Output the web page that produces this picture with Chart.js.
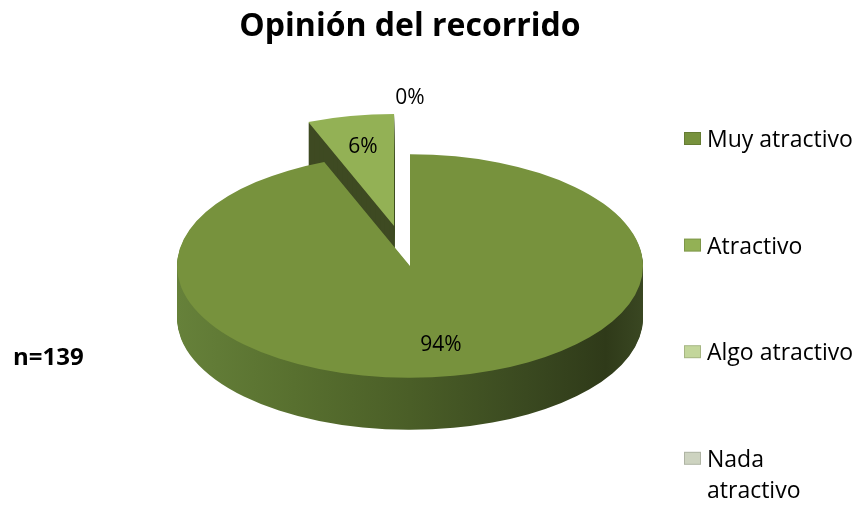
<!DOCTYPE html>
<html>
<head>
<meta charset="utf-8">
<script src="https://cdn.jsdelivr.net/npm/chart.js@4.4.1/dist/chart.umd.min.js"></script>
<style>
  html, body { margin: 0; background: #fff; }
</style>
</head>
<body>
<canvas id="pie" width="858" height="505"></canvas>
<script>
const categories = ['Muy atractivo', 'Atractivo', 'Algo atractivo', ['Nada', 'atractivo']];
const shares = [94, 6, 0, 0];
const sampleSize = 'n=139';
const sliceColors = ['#77923D', '#93B155', '#C3D69B', '#CDD3C0'];

// 3D look: ellipse centre, flattening, rim height, explode distance per slice
const view = { cy: 266, radius: 233, tilt: 0.48, depth: 52, explode: [0, 85, 0, 0] };
const sideDark = [null, '#3E4A22', null, null];
const font = '"Open Sans", "DejaVu Sans", sans-serif';

function midAngle(arc) {
  return (arc.startAngle + arc.endAngle) / 2;
}

function shiftOf(arc, i) {
  const e = view.explode[i] || 0;
  const m = midAngle(arc);
  return { dx: Math.cos(m) * e, dy: Math.sin(m) * e * view.tilt };
}

// draw one arc element squashed into the tilted plane, lowered by k px
function drawFlat(ctx, arc, shift, k, fill) {
  ctx.save();
  ctx.translate(arc.x + shift.dx, view.cy + shift.dy + k);
  ctx.scale(1, view.tilt);
  ctx.translate(-arc.x, -arc.y);
  const el = Object.create(arc);
  el.options = Object.assign({}, arc.options, { backgroundColor: fill, borderWidth: 0 });
  el.draw(ctx);
  ctx.restore();
}

function drawValueLabels(chart) {
  const ctx = chart.ctx;
  const arcs = chart.getDatasetMeta(0).data;
  const r = view.radius;
  const done = new Set();
  ctx.save();
  ctx.font = '21px ' + font;
  ctx.fillStyle = '#000';
  ctx.textAlign = 'center';
  ctx.textBaseline = 'middle';
  arcs.forEach((arc, i) => {
    const shift = shiftOf(arc, i);
    const m = midAngle(arc);
    const f = arc.circumference ? 0.72 : 1.5;
    const x = Math.round(arc.x + shift.dx + Math.cos(m) * r * f);
    const y = Math.round(view.cy + shift.dy + Math.sin(m) * r * f * view.tilt);
    const text = shares[i] + '%';
    const key = text + x + ',' + y;
    if (done.has(key)) return;
    done.add(key);
    ctx.fillText(text, x, y);
  });
  ctx.restore();
}

const pie3d = {
  id: 'pie3d',
  beforeDatasetsDraw(chart) {
    const ctx = chart.ctx;
    const arcs = chart.getDatasetMeta(0).data;
    const r = view.radius;
    const cx = arcs[0].x;
    const side = ctx.createLinearGradient(cx - r, 0, cx + r, 0);
    side.addColorStop(0, '#66813A');
    side.addColorStop(0.25, '#58702F');
    side.addColorStop(0.5, '#4A5E27');
    side.addColorStop(0.75, '#3A4920');
    side.addColorStop(0.92, '#2F3A19');
    side.addColorStop(1, '#3A4722');

    // back slices first
    const order = arcs.map((a, i) => i)
      .sort((a, b) => Math.sin(midAngle(arcs[a])) - Math.sin(midAngle(arcs[b])));
    for (const i of order) {
      const arc = arcs[i];
      if (!arc.circumference) continue;
      const shift = shiftOf(arc, i);
      for (let k = view.depth; k > 0; k--) {
        drawFlat(ctx, arc, shift, k, sideDark[i] || side);
      }
      drawFlat(ctx, arc, shift, 0, arc.options.backgroundColor);
    }
    return false;
  },
  afterDraw(chart) {
    const ctx = chart.ctx;
    drawValueLabels(chart);
    ctx.save();
    // legend
    ctx.font = '23px ' + font;
    ctx.textAlign = 'left';
    ctx.textBaseline = 'alphabetic';
    categories.forEach((label, i) => {
      const base = 147 + i * 106.6;
      ctx.fillStyle = sliceColors[i];
      ctx.fillRect(684, base - 15, 17, 13);
      ctx.strokeStyle = 'rgba(0,0,0,0.15)';
      ctx.strokeRect(684.5, base - 14.5, 16, 12);
      ctx.fillStyle = '#000';
      [].concat(label).forEach((line, j) => ctx.fillText(line, 707, base + j * 31));
    });
    // sample size
    ctx.font = 'bold 24px ' + font;
    ctx.fillText(sampleSize, 13, 365);
    ctx.restore();
  }
};

new Chart(document.getElementById('pie'), {
  type: 'pie',
  data: {
    labels: categories,
    datasets: [{
      data: shares,
      backgroundColor: sliceColors,
      borderWidth: 0,
      radius: view.radius
    }]
  },
  options: {
    responsive: false,
    animation: false,
    devicePixelRatio: 1,
    layout: { padding: { right: 38 } },
    plugins: {
      legend: { display: false },
      tooltip: { enabled: false },
      title: {
        display: true,
        fullSize: false,
        text: 'Opinión del recorrido',
        color: '#000',
        font: { family: font, size: 32, weight: 'bold' },
        padding: { top: 8, bottom: 0 }
      }
    }
  },
  plugins: [pie3d]
});
</script>
</body>
</html>
